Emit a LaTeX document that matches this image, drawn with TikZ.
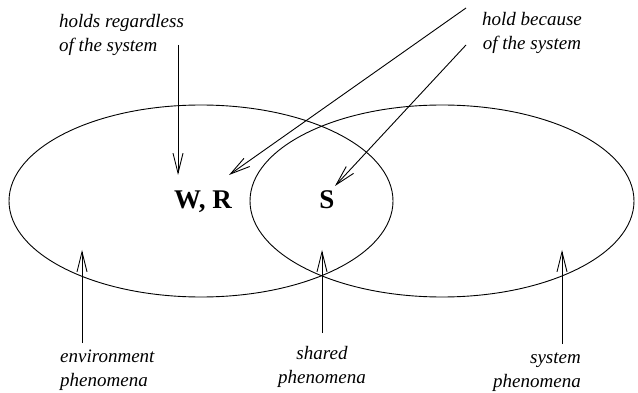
\documentclass[tikz,border=0pt]{standalone}
\usepackage{fontspec}
\setmainfont{Liberation Serif}
\usetikzlibrary{arrows.meta,shapes.geometric}
\tikzset{
  region/.style={draw, ellipse, line width=0.9pt, minimum width=384pt, minimum height=192pt, inner sep=0pt},
  lbl/.style={font=\fontsize{19}{24}\selectfont\itshape, inner sep=0pt},
  big/.style={font=\fontsize{27}{30}\selectfont\bfseries, inner sep=0pt},
  ptr/.style={line width=0.9pt, -{Straight Barb[length=20pt,width=10pt,line width=0.9pt]}}
}
\begin{document}
\begin{tikzpicture}[x=1pt,y=-1pt]
\useasboundingbox (0,0) rectangle (638,393);
\node[region] (env) at (201,201) {};
\node[region] (sys) at (442,201) {};
\node[big, anchor=base] (wr) at (203,209) {W, R};
\node[big, anchor=base] (s) at (327,209) {S};
\node[lbl, align=left, anchor=base west] (hr) at (59,52) {holds regardless\\of the system};
\node[lbl, align=center, anchor=base] (hb) at (532,50) {hold because\\of the system};
\node[lbl, align=left, anchor=base west] (ep) at (60,386) {environment\\phenomena};
\node[lbl, align=center, anchor=base] (sp) at (322,383) {shared\\phenomena};
\node[lbl, align=right, anchor=base east] (yp) at (581,387) {system\\phenomena};
\coordinate (a1s) at (178,45);  \coordinate (a1e) at (178,175);
\coordinate (a2s) at (466,8);   \coordinate (a2e) at (229,175);
\coordinate (a3s) at (466,45);  \coordinate (a3e) at (335,186);
\coordinate (b1s) at (82,343);  \coordinate (b1e) at (82,250);
\coordinate (b2s) at (322,333); \coordinate (b2e) at (322,250);
\coordinate (b3s) at (562,344); \coordinate (b3e) at (562,250);
\draw[ptr] (a1s) -- (a1e);
\draw[ptr] (a2s) -- (a2e);
\draw[ptr] (a3s) -- (a3e);
\draw[ptr] (b1s) -- (b1e);
\draw[ptr] (b2s) -- (b2e);
\draw[ptr] (b3s) -- (b3e);
\end{tikzpicture}
\end{document}
